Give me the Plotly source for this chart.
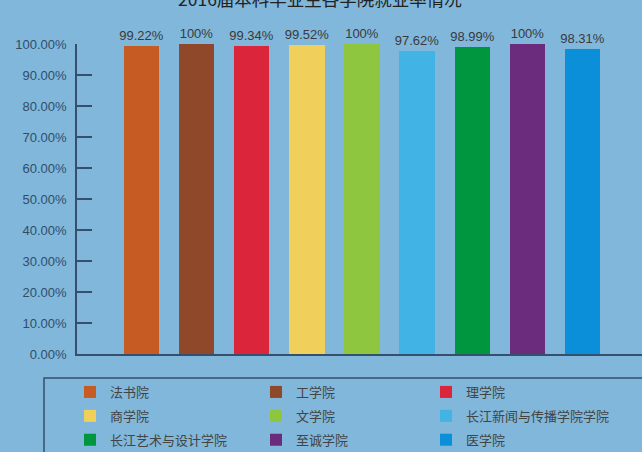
import plotly.graph_objects as go

title_text = "2016届本科毕业生各学院就业率情况"
colleges = ["法书院", "工学院", "理学院", "商学院", "文学院",
            "长江新闻与传播学院学院", "长江艺术与设计学院", "至诚学院", "医学院"]
rates = [99.22, 100, 99.34, 99.52, 100, 97.62, 98.99, 100, 98.31]
colors = ["#c65b24", "#8f4829", "#da253b", "#f1cf5b", "#8ec63f",
          "#41b3e4", "#00963f", "#6b2c7e", "#0b8fd9"]
tick_vals = [0, 10, 20, 30, 40, 50, 60, 70, 80, 90, 100]
tick_text = ["0.00%", "10.00%", "20.00%", "30.00%", "40.00%", "50.00%",
             "60.00%", "70.00%", "80.00%", "90.00%", "100.00%"]
legend_cols = ["legend", "legend2", "legend3"]

BG = "#80b7da"
AXIS = "#34506e"
FONT = "Noto Sans CJK SC"

fig = go.Figure()
for i, (name, v, c) in enumerate(zip(colleges, rates, colors)):
    fig.add_trace(go.Bar(
        x=[i], y=[v], name=name,
        marker=dict(color=c, line=dict(width=0)),
        width=0.64,
        text=[f"{v:g}%"], textposition="outside",
        constraintext="none",
        textfont=dict(family="Liberation Sans", size=13, color="#3a3a3a"),
        cliponaxis=False,
        legend=legend_cols[i % 3],
        legendgroup=name,
        hoverinfo="x+y",
    ))

W, H = 642, 452
ml, mr, mt, mb = 77, 0, 44, 98
pw, ph = W - ml - mr, H - mt - mb

def px2paper_x(px):
    return (px - ml) / pw

def px2paper_y(py):
    return (H - mb - py) / ph

leg_common = dict(
    orientation="v", bgcolor="rgba(0,0,0,0)", borderwidth=0,
    font=dict(family=FONT, size=13, color="#444444"),
    yanchor="top", xanchor="left", tracegroupgap=4,
    itemclick=False, itemdoubleclick=False,
)
legend_x_px = [70, 256, 426]
legend_top_px = 377

fig.update_layout(
    width=W, height=H,
    margin=dict(l=ml, r=mr, t=mt, b=mb, pad=0, autoexpand=False),
    paper_bgcolor=BG, plot_bgcolor=BG,
    barmode="overlay",
    bargap=0,
    showlegend=True,
    legend=dict(x=px2paper_x(legend_x_px[0]), y=px2paper_y(legend_top_px), **leg_common),
    legend2=dict(x=px2paper_x(legend_x_px[1]), y=px2paper_y(legend_top_px), **leg_common),
    legend3=dict(x=px2paper_x(legend_x_px[2]), y=px2paper_y(legend_top_px), **leg_common),
    xaxis=dict(
        range=[-1.17, 9.08], showticklabels=False, ticks="", showgrid=False,
        zeroline=False, showline=True, linecolor=AXIS, linewidth=1.5,
        fixedrange=True,
    ),
    yaxis=dict(
        range=[0, 100], tickvals=tick_vals, ticktext=tick_text,
        ticks="inside", ticklen=15, tickwidth=1.5, tickcolor=AXIS,
        showline=True, linecolor=AXIS, linewidth=1.5,
        showgrid=False, zeroline=False,
        tickfont=dict(family="Liberation Sans", size=13, color="#2f4e6c"),
        ticklabelstandoff=6,
        fixedrange=True,
    ),
    shapes=[dict(
        type="rect", xref="paper", yref="paper",
        x0=px2paper_x(44), x1=px2paper_x(700),
        y0=px2paper_y(378), y1=px2paper_y(500),
        line=dict(color=AXIS, width=1.5), fillcolor="rgba(0,0,0,0)", layer="below",
    )],
    annotations=[dict(
        text=title_text, xref="paper", yref="paper",
        x=px2paper_x(320), y=px2paper_y(-1), xanchor="center", yanchor="middle",
        showarrow=False, font=dict(family=FONT, size=17.5, color="#222222"),
    )],
)

fig.write_html("out.html", config={"displayModeBar": False})

# remove the default page margin so the figure fills the window exactly
with open("out.html", "r", encoding="utf-8") as f:
    html = f.read()
html = html.replace("<head>", "<head><style>html,body{margin:0;padding:0;overflow:hidden;}</style>", 1)
with open("out.html", "w", encoding="utf-8") as f:
    f.write(html)
